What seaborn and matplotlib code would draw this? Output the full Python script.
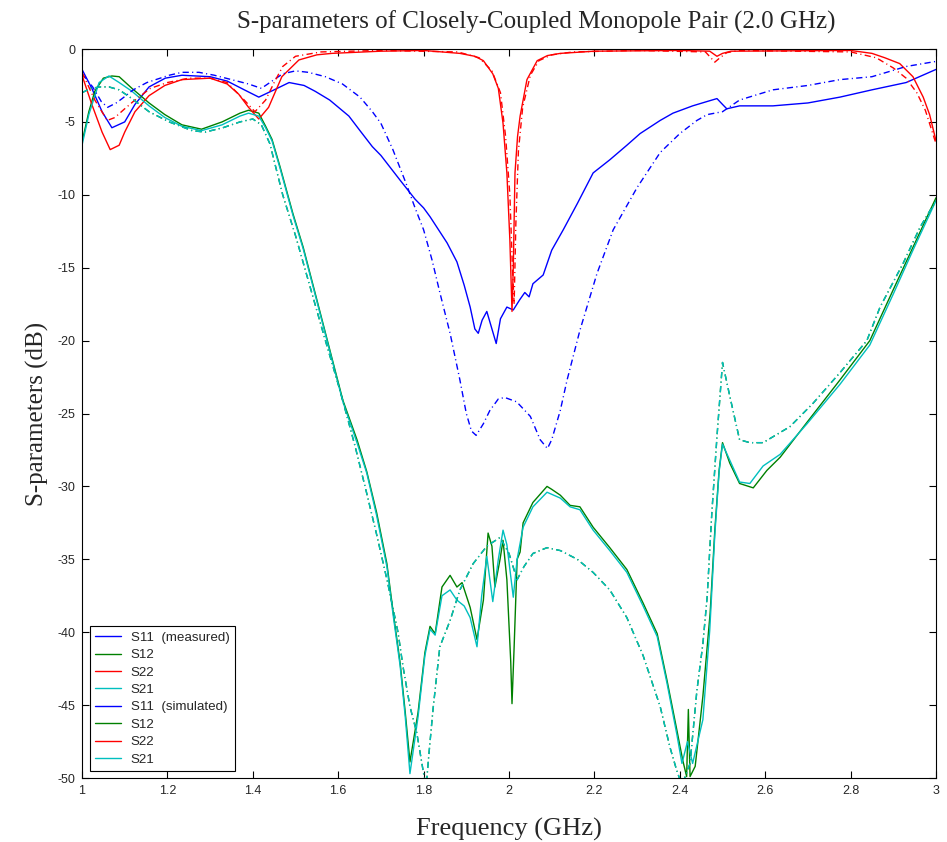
import numpy as np
import pandas as pd
import seaborn as sns
import matplotlib
matplotlib.use("Agg")
import matplotlib.pyplot as plt
from matplotlib.lines import Line2D

# ---- S11 measured ----
s11_meas_f = [1.000, 1.023, 1.047, 1.070, 1.100, 1.124, 1.157, 1.195, 1.234, 1.300,
              1.340, 1.380, 1.414, 1.450, 1.485, 1.520, 1.546, 1.580, 1.625, 1.651,
              1.680, 1.700, 1.745, 1.780, 1.800, 1.815, 1.835, 1.855, 1.878, 1.895,
              1.909, 1.920, 1.928, 1.937, 1.948, 1.958, 1.970, 1.980, 1.995, 2.010,
              2.025, 2.037, 2.047, 2.056, 2.080, 2.100, 2.127, 2.160, 2.197, 2.236,
              2.276, 2.307, 2.354, 2.384, 2.430, 2.464, 2.487, 2.500, 2.510, 2.540,
              2.618, 2.700, 2.775, 2.850, 2.930, 3.000]
s11_meas_db = [-1.4, -2.7, -4.3, -5.4, -5.0, -3.8, -2.6, -2.0, -1.8, -1.9,
               -2.2, -2.8, -3.3, -2.8, -2.3, -2.5, -2.9, -3.5, -4.6, -5.6,
               -6.7, -7.3, -9.0, -10.3, -10.9, -11.5, -12.4, -13.3, -14.6, -16.2,
               -17.7, -19.2, -19.5, -18.6, -18.0, -19.0, -20.2, -18.5, -17.7, -17.9,
               -17.2, -16.7, -17.0, -16.1, -15.5, -13.8, -12.4, -10.6, -8.5, -7.6,
               -6.6, -5.8, -4.9, -4.4, -3.9, -3.6, -3.4, -3.8, -4.1, -3.9,
               -3.9, -3.7, -3.3, -2.8, -2.3, -1.4]

# ---- S12 measured ----
s12_meas_f = [1.000, 1.016, 1.030, 1.050, 1.070, 1.087, 1.117, 1.157, 1.194, 1.234,
              1.280, 1.328, 1.370, 1.390, 1.414, 1.430, 1.445, 1.464, 1.494, 1.518,
              1.550, 1.580, 1.611, 1.644, 1.667, 1.690, 1.714, 1.729, 1.745, 1.757,
              1.768, 1.787, 1.803, 1.815, 1.827, 1.843, 1.862, 1.878, 1.890, 1.909,
              1.925, 1.940, 1.951, 1.960, 1.967, 1.979, 1.986, 1.995, 2.004, 2.007,
              2.012, 2.019, 2.026, 2.033, 2.056, 2.089, 2.100, 2.120, 2.143, 2.166,
              2.197, 2.236, 2.276, 2.314, 2.347, 2.370, 2.393, 2.407, 2.416, 2.420,
              2.424, 2.436, 2.454, 2.471, 2.482, 2.492, 2.500, 2.517, 2.540, 2.572,
              2.604, 2.635, 2.698, 2.775, 2.845, 2.900, 2.946, 3.000]
s12_meas_db = [-6.4, -4.3, -2.9, -2.0, -1.85, -1.9, -2.7, -3.7, -4.5, -5.2,
               -5.5, -5.0, -4.4, -4.2, -4.4, -5.3, -6.2, -8.1, -11.3, -13.6,
               -17.2, -20.6, -24.1, -26.8, -29.0, -31.8, -35.3, -38.7, -42.1, -45.5,
               -48.9, -45.5, -41.4, -39.6, -40.1, -36.9, -36.1, -36.9, -36.6, -38.3,
               -40.5, -37.8, -33.2, -34.1, -36.9, -35.0, -33.7, -36.4, -42.0, -44.9,
               -41.0, -35.0, -34.5, -32.5, -31.1, -30.0, -30.2, -30.6, -31.3, -31.4,
               -32.8, -34.2, -35.7, -38.0, -40.1, -43.3, -46.7, -48.8, -49.9, -45.3,
               -49.9, -49.2, -44.4, -38.7, -33.0, -28.9, -27.0, -28.4, -29.8, -30.1,
               -28.9, -28.0, -25.6, -22.7, -20.0, -16.5, -13.6, -10.2]

# ---- S22 measured ----
s22_meas_f = [1.000, 1.023, 1.047, 1.066, 1.087, 1.100, 1.124, 1.157, 1.194, 1.234,
              1.300, 1.340, 1.367, 1.390, 1.414, 1.437, 1.468, 1.508, 1.550, 1.585,
              1.700, 1.800, 1.885, 1.920, 1.940, 1.962, 1.975, 1.986, 1.995, 2.002,
              2.007, 2.010, 2.014, 2.020, 2.026, 2.042, 2.066, 2.090, 2.120, 2.200,
              2.400, 2.470, 2.487, 2.500, 2.520, 2.800, 2.850, 2.880, 2.915, 2.946,
              2.970, 2.985, 3.000]
s22_meas_db = [-1.8, -3.8, -5.7, -6.9, -6.6, -5.7, -4.3, -3.2, -2.5, -2.1,
               -2.0, -2.4, -3.1, -4.0, -4.8, -4.0, -1.9, -0.75, -0.4, -0.3,
               -0.15, -0.1, -0.3, -0.5, -0.8, -1.7, -2.7, -5.1, -8.5, -13.1,
               -18.0, -15.0, -8.5, -6.0, -4.6, -2.1, -0.8, -0.45, -0.3, -0.15,
               -0.1, -0.15, -0.5, -0.3, -0.15, -0.1, -0.3, -0.6, -1.0, -1.9,
               -3.3, -4.5, -6.3]

# ---- S21 measured ----
s21_meas_f = [1.000, 1.016, 1.040, 1.063, 1.087, 1.117, 1.157, 1.194, 1.234, 1.280,
              1.328, 1.370, 1.390, 1.414, 1.430, 1.445, 1.464, 1.494, 1.518, 1.550,
              1.580, 1.611, 1.644, 1.667, 1.690, 1.714, 1.729, 1.745, 1.757, 1.768,
              1.787, 1.803, 1.815, 1.827, 1.843, 1.862, 1.878, 1.895, 1.909, 1.925,
              1.936, 1.948, 1.962, 1.975, 1.986, 1.995, 2.010, 2.019, 2.033, 2.056,
              2.089, 2.120, 2.143, 2.166, 2.197, 2.236, 2.276, 2.314, 2.347, 2.370,
              2.393, 2.405, 2.418, 2.430, 2.454, 2.470, 2.482, 2.492, 2.500, 2.517,
              2.540, 2.564, 2.595, 2.635, 2.698, 2.775, 2.845, 2.900, 2.946, 3.000]
s21_meas_db = [-6.6, -4.5, -2.3, -1.85, -2.3, -2.9, -3.9, -4.7, -5.3, -5.6,
               -5.2, -4.6, -4.4, -4.6, -5.4, -6.3, -8.2, -11.4, -13.7, -17.3,
               -20.7, -24.2, -27.0, -29.1, -32.0, -35.5, -38.9, -42.3, -45.8, -49.7,
               -45.8, -41.6, -39.8, -40.2, -37.5, -37.1, -37.8, -38.2, -39.0, -41.0,
               -37.5, -34.8, -37.9, -35.0, -33.0, -34.0, -37.6, -35.0, -32.8, -31.4,
               -30.4, -30.8, -31.4, -31.6, -33.0, -34.4, -35.9, -38.2, -40.3, -43.5,
               -47.0, -49.0, -47.5, -49.0, -46.0, -39.9, -33.3, -29.0, -27.1, -28.2,
               -29.7, -29.8, -28.6, -27.8, -25.7, -23.0, -20.3, -16.8, -13.8, -10.4]

# ---- S11 simulated ----
s11_sim_f = [1.000, 1.025, 1.045, 1.060, 1.080, 1.094, 1.120, 1.152, 1.204, 1.234,
             1.274, 1.310, 1.350, 1.390, 1.420, 1.445, 1.470, 1.500, 1.530, 1.570,
             1.610, 1.651, 1.680, 1.700, 1.728, 1.760, 1.780, 1.800, 1.820, 1.838,
             1.862, 1.885, 1.900, 1.912, 1.923, 1.940, 1.955, 1.975, 1.990, 2.018,
             2.050, 2.073, 2.090, 2.100, 2.120, 2.136, 2.166, 2.206, 2.244, 2.300,
             2.354, 2.400, 2.440, 2.464, 2.500, 2.540, 2.618, 2.700, 2.775, 2.850,
             2.930, 3.000]
s11_sim_db = [-1.7, -2.6, -3.6, -4.0, -3.7, -3.4, -2.8, -2.3, -1.8, -1.6,
              -1.6, -1.8, -2.1, -2.4, -2.7, -2.2, -1.7, -1.5, -1.6, -1.9,
              -2.4, -3.3, -4.3, -5.1, -6.9, -9.3, -10.9, -12.4, -14.5, -16.7,
              -19.5, -22.7, -25.0, -26.2, -26.5, -25.7, -24.8, -24.0, -23.9, -24.2,
              -25.2, -26.8, -27.4, -26.8, -24.8, -22.7, -19.3, -15.4, -12.4, -9.5,
              -7.1, -5.8, -4.9, -4.5, -4.3, -3.5, -2.8, -2.5, -2.1, -1.9,
              -1.2, -0.85]

# ---- S12 simulated (S21 simulated is identical: the modelled pair is reciprocal) ----
s12_sim_f = [1.000, 1.020, 1.043, 1.063, 1.087, 1.117, 1.157, 1.204, 1.258, 1.288,
             1.330, 1.370, 1.400, 1.420, 1.440, 1.470, 1.500, 1.534, 1.570, 1.604,
             1.640, 1.667, 1.690, 1.715, 1.740, 1.752, 1.768, 1.784, 1.800, 1.806,
             1.812, 1.822, 1.838, 1.862, 1.885, 1.916, 1.948, 1.979, 2.000, 2.019,
             2.035, 2.056, 2.089, 2.120, 2.160, 2.197, 2.236, 2.276, 2.314, 2.354,
             2.377, 2.393, 2.405, 2.424, 2.440, 2.454, 2.464, 2.475, 2.487, 2.500,
             2.517, 2.540, 2.564, 2.595, 2.658, 2.712, 2.775, 2.838, 2.869, 2.923,
             2.963, 3.000]
s12_sim_db = [-3.0, -2.7, -2.6, -2.6, -2.8, -3.4, -4.3, -5.0, -5.6, -5.7,
              -5.4, -5.0, -4.8, -5.2, -6.5, -10.0, -12.8, -16.3, -20.0, -23.4,
              -27.3, -30.5, -33.3, -36.5, -40.0, -42.4, -45.1, -46.9, -49.7, -50.6,
              -48.5, -45.3, -41.0, -39.2, -37.1, -35.3, -34.1, -33.5, -34.6, -36.4,
              -35.5, -34.6, -34.2, -34.4, -35.0, -35.9, -37.1, -39.0, -41.6, -45.1,
              -47.9, -49.5, -50.5, -49.0, -44.0, -40.8, -37.6, -31.8, -26.6, -21.5,
              -23.8, -26.8, -27.0, -27.0, -25.9, -24.3, -22.2, -20.0, -17.7, -14.7,
              -12.2, -10.4]
s21_sim_f = s12_sim_f
s21_sim_db = s12_sim_db

# ---- S22 simulated ----
s22_sim_f = [1.000, 1.030, 1.059, 1.077, 1.100, 1.120, 1.160, 1.200, 1.250, 1.300,
             1.340, 1.380, 1.405, 1.430, 1.450, 1.470, 1.500, 1.560, 1.700, 1.880,
             1.930, 1.960, 1.980, 1.992, 2.002, 2.008, 2.012, 2.016, 2.022, 2.032,
             2.050, 2.070, 2.100, 2.150, 2.300, 2.460, 2.482, 2.494, 2.510, 2.540,
             2.800, 2.860, 2.900, 2.930, 2.955, 2.975, 3.000]
s22_sim_db = [-1.6, -3.5, -4.9, -4.7, -4.1, -3.6, -2.7, -2.3, -2.0, -2.0,
              -2.3, -3.5, -4.3, -3.5, -2.3, -1.2, -0.5, -0.2, -0.1, -0.2,
              -0.6, -1.5, -3.0, -6.0, -10.0, -15.0, -17.5, -12.0, -7.0, -4.0,
              -1.8, -0.8, -0.4, -0.2, -0.1, -0.2, -0.9, -0.6, -0.25, -0.1,
              -0.2, -0.6, -1.3, -2.0, -3.0, -4.2, -6.5]

legend_labels = ["S11  (measured)", "S12", "S22", "S21",
                 "S11  (simulated)", "S12", "S22", "S21"]

BLUE, GREEN, RED, CYAN = "#0000ff", "#008000", "#ff0000", "#00bfbf"
DASHDOT = (0, (4.5, 2.4, 0.8, 2.4))

series = [
    (s11_meas_f, s11_meas_db, BLUE, "-"),
    (s12_meas_f, s12_meas_db, GREEN, "-"),
    (s22_meas_f, s22_meas_db, RED, "-"),
    (s21_meas_f, s21_meas_db, CYAN, "-"),
    (s11_sim_f, s11_sim_db, BLUE, DASHDOT),
    (s12_sim_f, s12_sim_db, GREEN, DASHDOT),
    (s22_sim_f, s22_sim_db, RED, DASHDOT),
    (s21_sim_f, s21_sim_db, CYAN, DASHDOT),
]

sns.set_style("ticks")
plt.rcParams["font.family"] = ["Liberation Sans", "DejaVu Sans"]
plt.rcParams["xtick.direction"] = "in"
plt.rcParams["ytick.direction"] = "in"

fig = plt.figure(figsize=(9.47, 8.42), dpi=100)
ax = fig.add_axes([0.0866, 0.076, 0.9018, 0.8658])

for f, db, color, ls in series:
    df = pd.DataFrame({"freq": f, "db": db})
    sns.lineplot(data=df, x="freq", y="db", ax=ax, color=color,
                 linestyle=ls, linewidth=1.0, sort=False, estimator=None,
                 legend=False)

ax.set_xlim(1, 3)
ax.set_ylim(-50, 0)
xt = np.round(np.arange(1.0, 3.01, 0.2), 1)
ax.set_xticks(xt)
ax.set_xticklabels([f"{v:g}" for v in xt])
yt = np.arange(-50, 1, 5)
ax.set_yticks(yt)
ax.set_yticklabels([f"{v:d}" for v in yt])
ax.tick_params(axis="both", which="both", direction="in", length=5, width=0.8,
               labelsize=9, top=True, right=True, color="black", pad=5)
for sp in ax.spines.values():
    sp.set_visible(True)
    sp.set_color("black")
    sp.set_linewidth(0.8)

serif = ["Liberation Serif", "DejaVu Serif"]
ax.set_title("S-parameters of Closely-Coupled Monopole Pair (2.0 GHz)",
             family=serif, fontsize=18, pad=15, x=0.532)
ax.set_xlabel("Frequency (GHz)", family=serif, fontsize=19, labelpad=15)
ax.set_ylabel("S-parameters (dB)", family=serif, fontsize=18, labelpad=6)

handles = [Line2D([0], [0], color=c, linewidth=1.0)
           for c in [BLUE, GREEN, RED, CYAN, BLUE, GREEN, RED, CYAN]]
leg = ax.legend(handles, legend_labels, loc="lower left",
                bbox_to_anchor=(0.0094, 0.0096), borderaxespad=0,
                fontsize=9.6, labelspacing=0.38, handlelength=1.9,
                handletextpad=0.75, borderpad=0.4, frameon=True,
                fancybox=False, framealpha=1, edgecolor="black")
leg.get_frame().set_linewidth(0.8)

fig.savefig("out.png", dpi=100)
